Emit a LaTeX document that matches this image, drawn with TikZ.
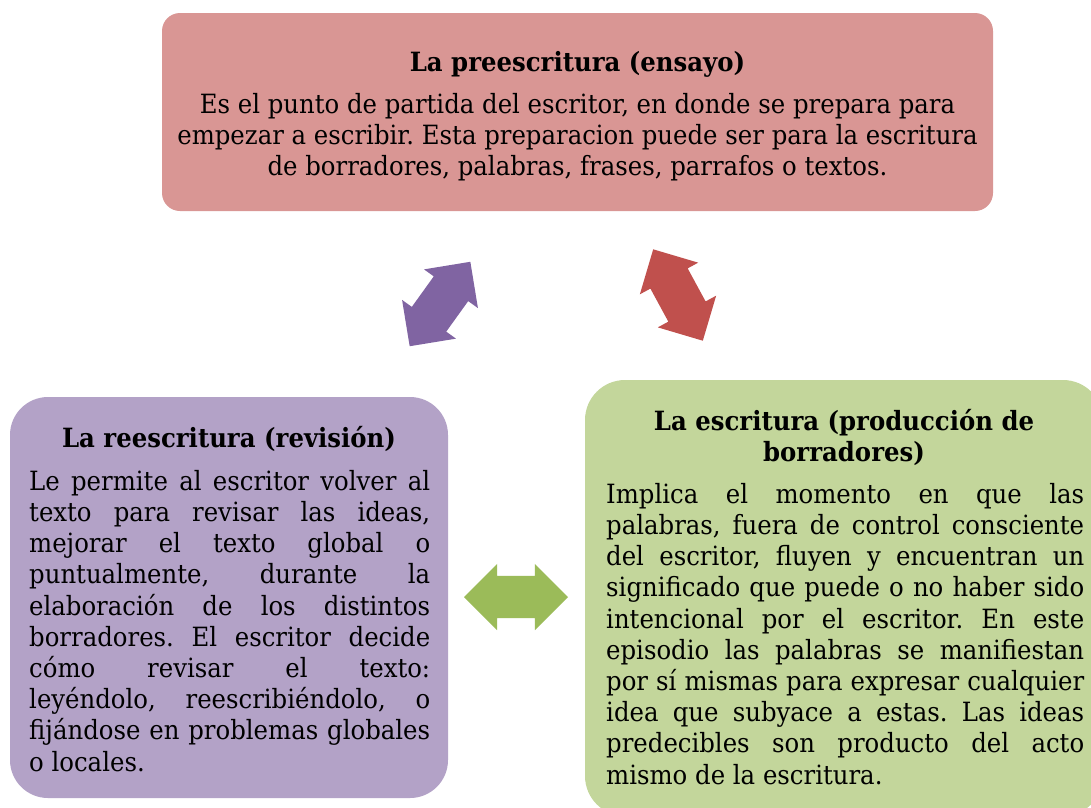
\documentclass[tikz,border=0pt]{standalone}
\usepackage{fontspec}
\setmainfont[FakeStretch=0.92]{DejaVu Serif}
\usetikzlibrary{shapes.arrows}
\definecolor{preRed}{HTML}{D99694}
\definecolor{revLila}{HTML}{B3A2C7}
\definecolor{escVerde}{HTML}{C3D69B}
\definecolor{arrLila}{HTML}{8064A2}
\definecolor{arrRed}{HTML}{C0504D}
\definecolor{arrVerde}{HTML}{9BBB59}
\newcommand\bodysize{\fontsize{26.5}{31.2}\selectfont\frenchspacing}
\tikzset{
  box/.style={inner sep=0pt},
  titletext/.style={font=\bodysize\bfseries, inner sep=0pt},
  bodytext/.style={font=\bodysize, inner sep=0pt},
  dblarrow/.style={double arrow, double arrow head extend=12pt, inner xsep=0pt,
    inner ysep=21pt, minimum height=104pt, fill=#1, font=\tiny}
}
\begin{document}
\begin{tikzpicture}[x=1pt, y=-1pt]
\useasboundingbox (0,0) rectangle (1091,807);
% las tres etapas
\node[box, fill=preRed, minimum width=831pt, minimum height=198pt, rounded corners=18pt] (pre) at (577.5,112) {};
\node[titletext, anchor=base] (pre-title) at (577.5,71) {La preescritura (ensayo)};
\node[bodytext, align=center, anchor=north] (pre-body) at (577.5,91) {\strut Es el punto de partida del escritor, en donde se prepara para\\
empezar a escribir. Esta preparacion puede ser para la escritura\\
de borradores, palabras, frases, parrafos o textos.};

\node[box, fill=revLila, minimum width=438pt, minimum height=401pt, rounded corners=38pt] (rev) at (229,597.5) {};
\node[titletext, anchor=base] (rev-title) at (229,447) {La reescritura (revisión)};
\node[bodytext, text width=401pt, align=justify, anchor=north west] (rev-body) at (29,468.2) {\strut Le permite al escritor volver al\linebreak
texto para revisar las ideas,\linebreak
mejorar el texto global o\linebreak
puntualmente, durante la\linebreak
elaboración de los distintos\linebreak
borradores. El escritor decide\linebreak
cómo revisar el texto:\linebreak
leyéndolo, reescribiéndolo, o\linebreak
fijándose en problemas globales\linebreak
o locales.};

\node[box, fill=escVerde, minimum width=518pt, minimum height=436pt, rounded corners=40pt] (esc) at (844,598) {};
\node[titletext, align=center, anchor=north] (esc-title) at (844,408.2) {\strut La escritura (producción de\\ borradores)};
\node[bodytext, text width=478pt, align=justify, anchor=north west] (esc-body) at (606,481.2) {\strut Implica el momento en que las\linebreak
palabras, fuera de control consciente\linebreak
del escritor, fluyen y encuentran un\linebreak
significado que puede o no haber sido\linebreak
intencional por el escritor. En este\linebreak
episodio las palabras se manifiestan\linebreak
por sí mismas para expresar cualquier\linebreak
idea que subyace a estas. Las ideas\linebreak
predecibles son producto del acto\linebreak
mismo de la escritura.};

% flechas dobles entre etapas
\node[dblarrow=arrLila, rotate=54.3] (a-rev-pre) at (440,304) {};
\node[dblarrow=arrRed, rotate=-61.5] (a-pre-esc) at (678,295) {};
\node[dblarrow=arrVerde] (a-esc-rev) at (516,597) {};
\end{tikzpicture}
\end{document}
